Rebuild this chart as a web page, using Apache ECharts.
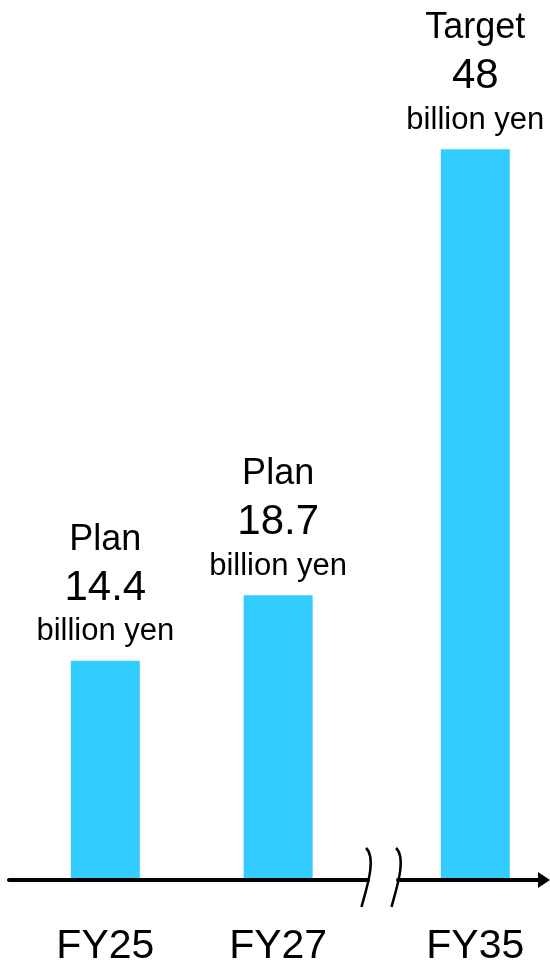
<!DOCTYPE html>
<html>
<head>
<meta charset="utf-8">
<script src="https://cdn.jsdelivr.net/npm/echarts@6/dist/echarts.min.js"></script>
<style>
html, body { margin: 0; padding: 0; background: #fff; }
#chart { width: 550px; height: 963px; }
</style>
</head>
<body>
<div id="chart"></div>
<script>
// ---- data ----
const categories = ['FY25', 'FY27', 'FY35'];
const fiscalYears = [25, 27, 35];
const values = [14.4, 18.7, 48];
const labelTitles = ['Plan', 'Plan', 'Target'];
const unitText = 'billion yen';

// ---- chart ----
const FONT = '"Liberation Sans", Arial, Helvetica, sans-serif';
const BAR_COLOR = '#33CCFF';

const chart = echarts.init(document.getElementById('chart'), null, { renderer: 'canvas' });

function seriesData(idx) {
  return idx.map(i => ({ value: [fiscalYears[i], values[i]], name: categories[i] }));
}

function labelFormatter(p) {
  const i = categories.indexOf(p.name);
  return '{t|' + labelTitles[i] + '}\n{v|' + values[i] + '}\n{u|' + unitText + '}';
}

const barLabel = {
  show: true,
  position: 'top',
  distance: 11,
  formatter: labelFormatter,
  color: '#000',
  fontFamily: FONT,
  rich: {
    t: { fontSize: 36, lineHeight: 46, fontFamily: FONT, color: '#000' },
    v: { fontSize: 42, lineHeight: 51, fontFamily: FONT, color: '#000' },
    u: { fontSize: 31, lineHeight: 36, fontFamily: FONT, color: '#000' }
  }
};

function xAxisCfg(gridIndex, min, max, labelYears, withArrow) {
  return {
    type: 'value',
    gridIndex: gridIndex,
    min: min,
    max: max,
    z: 5,
    axisLine: {
      show: true,
      onZero: false,
      symbol: withArrow ? ['none', 'triangle'] : ['none', 'none'],
      symbolSize: [16, 12],
      lineStyle: { color: '#000', width: 4 }
    },
    axisTick: { show: false },
    splitLine: { show: false },
    axisLabel: {
      show: true,
      customValues: labelYears,
      formatter: v => categories[fiscalYears.indexOf(v)] || '',
      margin: 46,
      fontSize: 41,
      fontFamily: FONT,
      color: '#000',
      hideOverlap: false
    }
  };
}

const gridCommon = { top: 118.7, bottom: 83, containLabel: false, outerBoundsMode: 'none' };

const option = {
  animation: false,
  backgroundColor: '#fff',
  grid: [
    Object.assign({ left: 9, width: 359 }, gridCommon),
    Object.assign({ left: 398, width: 146 }, gridCommon)
  ],
  xAxis: [
    xAxisCfg(0, 23.885, 28.04, [fiscalYears[0], fiscalYears[1]], false),
    xAxisCfg(1, 34.1, 35.8, [fiscalYears[2]], true)
  ],
  yAxis: [
    { type: 'value', gridIndex: 0, min: 0, max: 50, show: false },
    { type: 'value', gridIndex: 1, min: 0, max: 50, show: false }
  ],
  series: [
    {
      type: 'bar', xAxisIndex: 0, yAxisIndex: 0,
      data: seriesData([0, 1]),
      barWidth: 69,
      itemStyle: { color: BAR_COLOR },
      label: barLabel
    },
    {
      type: 'bar', xAxisIndex: 1, yAxisIndex: 1,
      data: seriesData([2]),
      barWidth: 69,
      itemStyle: { color: BAR_COLOR },
      label: barLabel
    }
  ],
  graphic: [
    {
      type: 'bezierCurve', z: 10,
      shape: { x1: 366, y1: 848, cpx1: 377, cpy1: 858, cpx2: 366, cpy2: 890, x2: 361.5, y2: 907 },
      style: { stroke: '#000', lineWidth: 2.5, fill: null }
    },
    {
      type: 'bezierCurve', z: 10,
      shape: { x1: 396, y1: 848, cpx1: 407, cpy1: 858, cpx2: 396, cpy2: 890, x2: 391.5, y2: 907 },
      style: { stroke: '#000', lineWidth: 2.5, fill: null }
    }
  ]
};

chart.setOption(option);
</script>
</body>
</html>
